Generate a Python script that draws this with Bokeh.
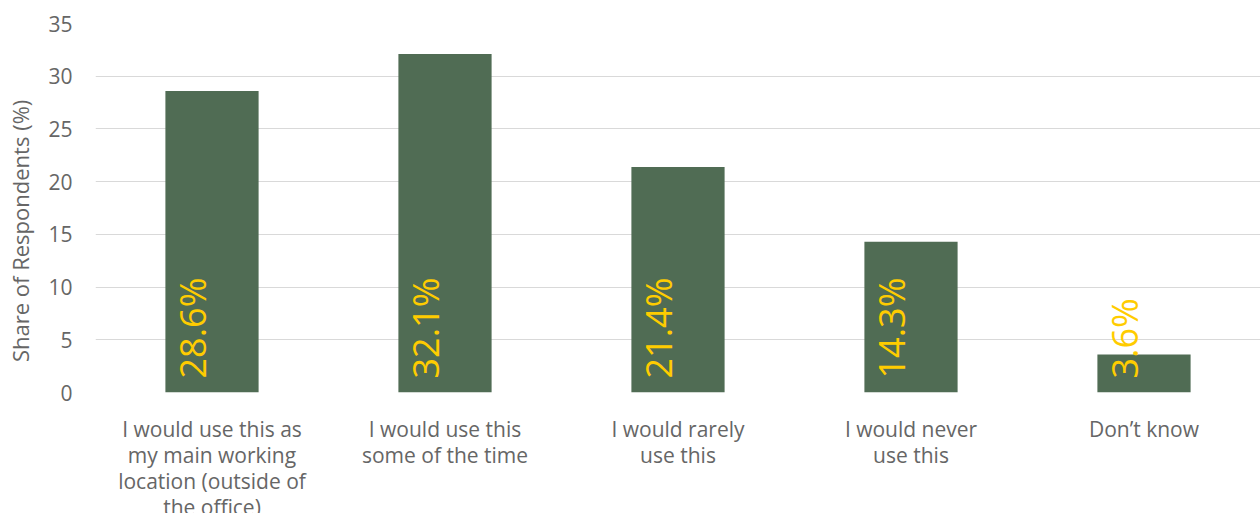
from bokeh.plotting import figure
from bokeh.models import ColumnDataSource, Range1d, FixedTicker
from bokeh.embed import file_html
from bokeh.resources import INLINE
from bokeh.core.properties import value
import math

categories = [
    "I would use this as\nmy main working\nlocation (outside of\nthe office)",
    "I would use this\nsome of the time",
    "I would rarely\nuse this",
    "I would never\nuse this",
    "Don\u2019t know",
]
shares = [28.6, 32.1, 21.4, 14.3, 3.6]
labels = ["28.6%", "32.1%", "21.4%", "14.3%", "3.6%"]
y_ticks = [0, 5, 10, 15, 20, 25, 30, 35]

FONT = "Open Sans"
GRAY = "#666666"

src = ColumnDataSource(dict(cat=categories, val=shares, lab=labels, zero=[0] * len(shares)))

p = figure(
    x_range=categories,
    y_range=Range1d(0, 35),
    frame_width=1165,
    frame_height=369,
    min_border_left=95,
    min_border_right=0,
    min_border_top=23,
    min_border_bottom=0,
    output_backend="svg",
    toolbar_location=None,
)

p.vbar(x="cat", top="val", width=0.4, source=src, fill_color="#506C54", line_color=None)

p.text(
    x="cat", y="zero", text="lab", source=src,
    angle=math.pi / 2,
    text_align="left", text_baseline="alphabetic",
    x_offset=-20, y_offset=-14,
    text_color="#FFCC00", text_font_size="36px", text_font=value(FONT),
)

p.outline_line_color = None
p.background_fill_color = "white"
p.border_fill_color = "white"

p.xgrid.grid_line_color = None
p.ygrid.grid_line_color = "#D9D9D9"
p.ygrid.grid_line_width = 1
p.yaxis.ticker = FixedTicker(ticks=y_ticks)

for ax in (p.xaxis, p.yaxis):
    ax.axis_line_color = None
    ax.major_tick_line_color = None
    ax.minor_tick_line_color = None
    ax.major_label_text_color = GRAY
    ax.major_label_text_font = FONT
    ax.major_label_text_font_size = "21px"

p.xaxis.major_label_standoff = 16
p.xaxis.major_label_text_line_height = 0.93
p.yaxis.major_label_standoff = 17
p.yaxis.axis_label = "Share of Respondents (%)" + "\u00a0" * 8
p.yaxis.axis_label_text_font = FONT
p.yaxis.axis_label_text_font_size = "22px"
p.yaxis.axis_label_text_font_style = "normal"
p.yaxis.axis_label_text_color = GRAY
p.yaxis.axis_label_standoff = 10

open("out.html", "w").write(file_html(p, INLINE))
